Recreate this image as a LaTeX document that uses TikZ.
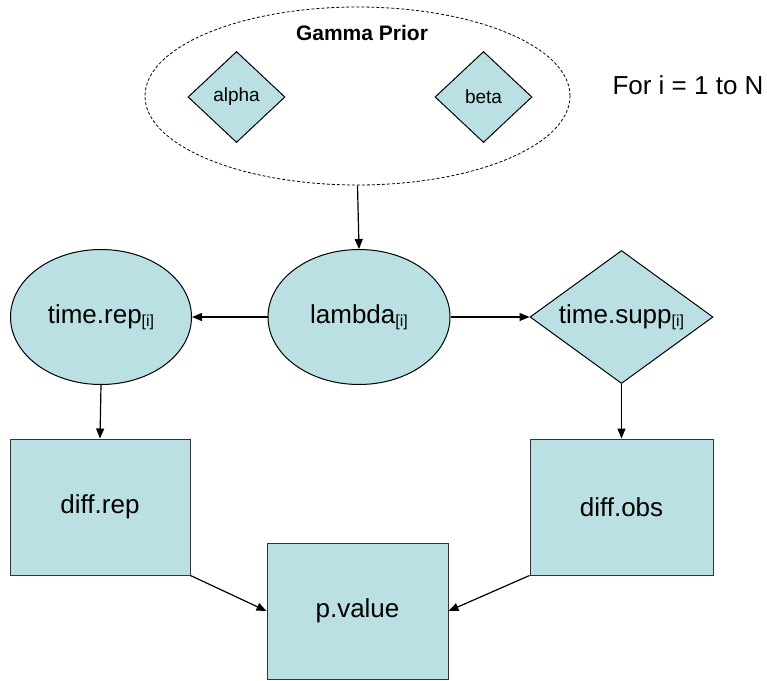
\documentclass[tikz,border=0pt]{standalone}
\usepackage{fontspec}
\setmainfont{Liberation Sans}
\usepackage{xcolor}
\usepackage{tikz}
\usetikzlibrary{shapes.geometric,arrows.meta}

\definecolor{nodefill}{RGB}{187,224,227}
\newcommand{\idx}{\raisebox{-3pt}{\fontsize{16}{16}\selectfont[i]}}

\begin{document}
\begin{tikzpicture}[x=1pt, y=-1pt,
  font=\fontsize{26}{30}\selectfont,
  every node/.style={inner sep=0pt},
  stoch/.style={ellipse, draw, fill=nodefill, line width=1pt},
  obsv/.style={diamond, draw, fill=nodefill, line width=1pt},
  detm/.style={rectangle, draw=black!80, fill=nodefill, line width=1pt},
  link/.style={-{Triangle[length=10pt,width=8pt]}, line width=1.2pt}]

  \useasboundingbox (0,0) rectangle (767,680);

  % 先验（虚线椭圆）
  \node[ellipse, draw, dashed, dash pattern=on 3pt off 2pt, line width=0.8pt,
        minimum width=425, minimum height=178] (prior) at (357.5,96) {};
  \node[font=\fontsize{21}{24}\selectfont\bfseries] (gp) at (362,33) {Gamma Prior};
  \node[obsv, minimum width=97, minimum height=91,
        font=\fontsize{19}{22}\selectfont] (alpha) at (236.5,97) {alpha};
  \node[obsv, minimum width=97, minimum height=91,
        font=\fontsize{19}{22}\selectfont] (beta) at (483.5,97) {beta};

  \node (loop) at (688,85) {For i = 1 to N};

  % 第二行
  \node[stoch, minimum width=182, minimum height=135] (lam) at (359,317) {lambda\idx};
  \node[stoch, minimum width=181, minimum height=135] (rep) at (101,317) {time.rep\idx};
  \node[obsv, aspect=1.38, minimum width=183, minimum height=133] (supp) at (621.5,317) {time.supp\idx};

  % 方框
  \node[detm, minimum width=180, minimum height=136] (drep) at (100,507) {diff.rep};
  \node[detm, minimum width=183, minimum height=136] (dobs) at (621.5,507) {diff.obs};
  \node[detm, minimum width=181, minimum height=136] (pv) at (357.5,611) {p.value};

  % 连线
  \draw[link] (prior.south) -- (lam.north);
  \draw[link] (lam.west) -- (rep.east);
  \draw[link] (lam.east) -- (supp.west);
  \draw[link] (rep.south) -- (drep.north);
  \draw[link] (supp.south) -- (dobs.north);
  \draw[link] (drep.south east) -- (pv.west);
  \draw[link] (dobs.south west) -- (pv.east);

\end{tikzpicture}
\end{document}
